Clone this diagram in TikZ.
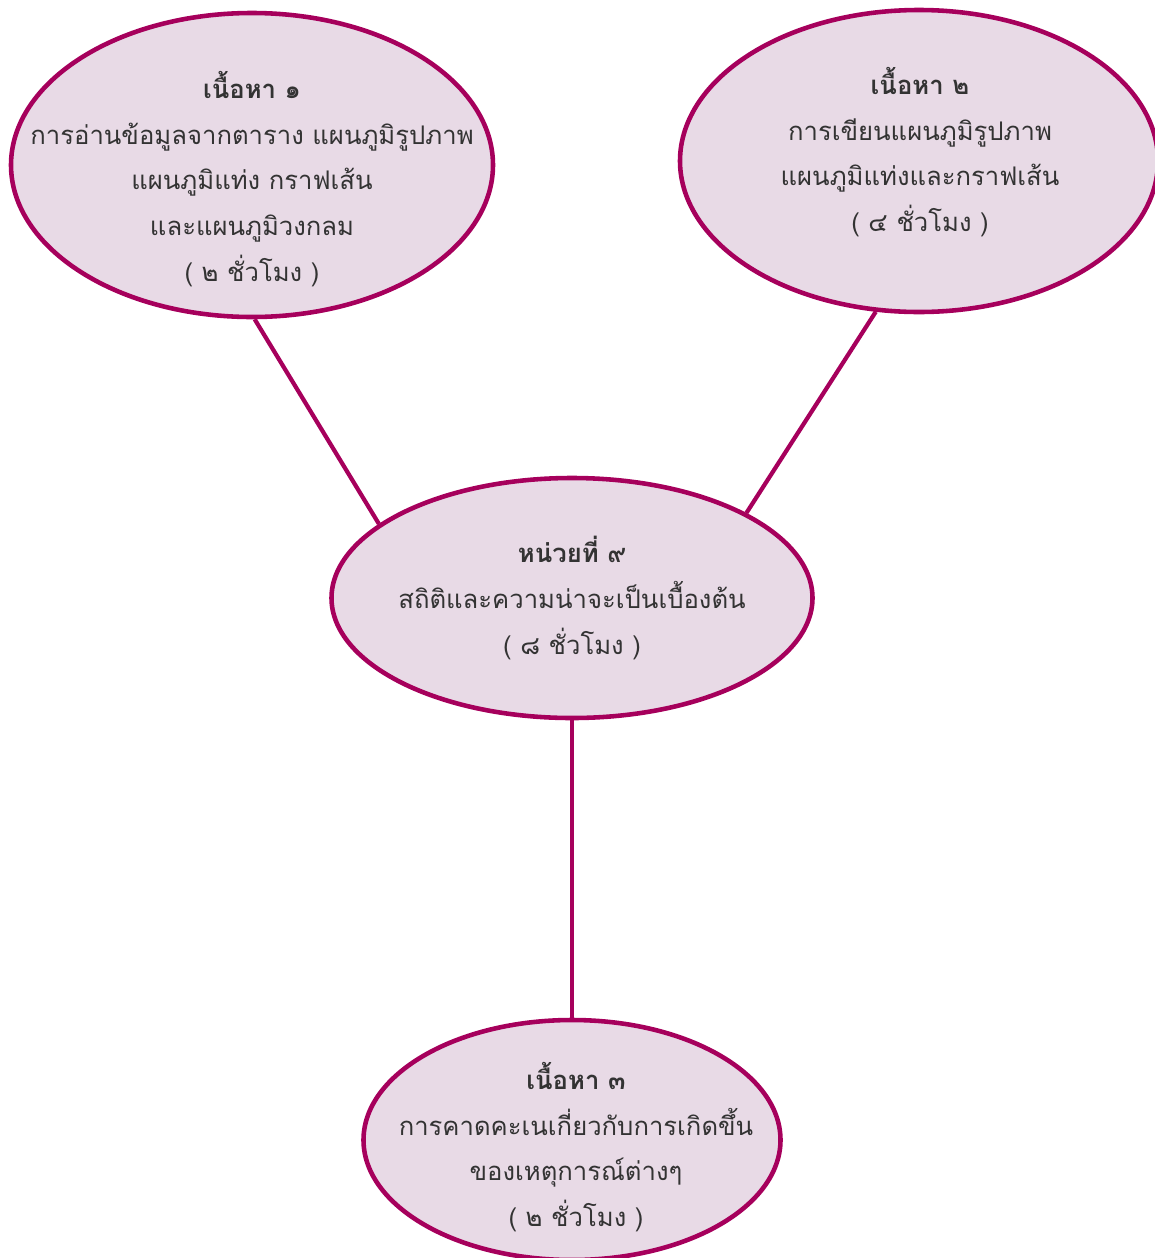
\documentclass[tikz,border=0pt]{standalone}
\usepackage{fontspec}
\setmainfont[Script=Thai]{Loma}
\usetikzlibrary{shapes.geometric}
\definecolor{rim}{HTML}{A6005C}
\definecolor{pad}{HTML}{E8DAE6}
\definecolor{ink}{HTML}{333333}
\begin{document}
\begin{tikzpicture}[x=0.02cm,y=-0.02cm]
	% size of one pixel
	\def\px{0.02cm}
	% node style definition
	\tikzstyle{topic} = [draw=rim, fill=pad, ellipse, line width=2.6pt, inner sep=0pt];
	\tikzstyle{blurb} = [text=ink, align=center, inner sep=0pt, font=\fontsize{14.6}{26}\selectfont];
	\tikzstyle{link} = [draw=rim, line width=2.4pt];
	\useasboundingbox (0,0) rectangle (1154,1258);
	% ellipses
	\node[topic, minimum width=482*\px, minimum height=304*\px] (c1) at (252,165) {};
	\node[topic, minimum width=478*\px, minimum height=302*\px] (c2) at (919,161) {};
	\node[topic, minimum width=481*\px, minimum height=240*\px] (unit) at (572,598) {};
	\node[topic, minimum width=417*\px, minimum height=240*\px] (c3) at (572,1140) {};
	% texts
	\node[blurb] (c1txt) at (252,179) {\textbf{เนื้อหา ๑}\\การอ่านข้อมูลจากตาราง แผนภูมิรูปภาพ\\แผนภูมิแท่ง กราฟเส้น\\และแผนภูมิวงกลม\\( ๒ ชั่วโมง )};
	\node[blurb] (c2txt) at (920,152) {\textbf{เนื้อหา ๒}\\การเขียนแผนภูมิรูปภาพ\\แผนภูมิแท่งและกราฟเส้น\\( ๔ ชั่วโมง )};
	\node[blurb] (unittxt) at (572,598) {\textbf{หน่วยที่ ๙}\\สถิติและความน่าจะเป็นเบื้องต้น\\( ๘ ชั่วโมง )};
	\node[blurb] (c3txt) at (576,1147) {\textbf{เนื้อหา ๓}\\การคาดคะเนเกี่ยวกับการเกิดขึ้น\\ของเหตุการณ์ต่างๆ\\( ๒ ชั่วโมง )};
	% connectors
	\draw[link] (c1.-89) -- (unit.159);
	\draw[link] (c2.-106) -- (unit.26);
	\draw[link] (unit.south) -- (c3.north);
\end{tikzpicture}
\end{document}
